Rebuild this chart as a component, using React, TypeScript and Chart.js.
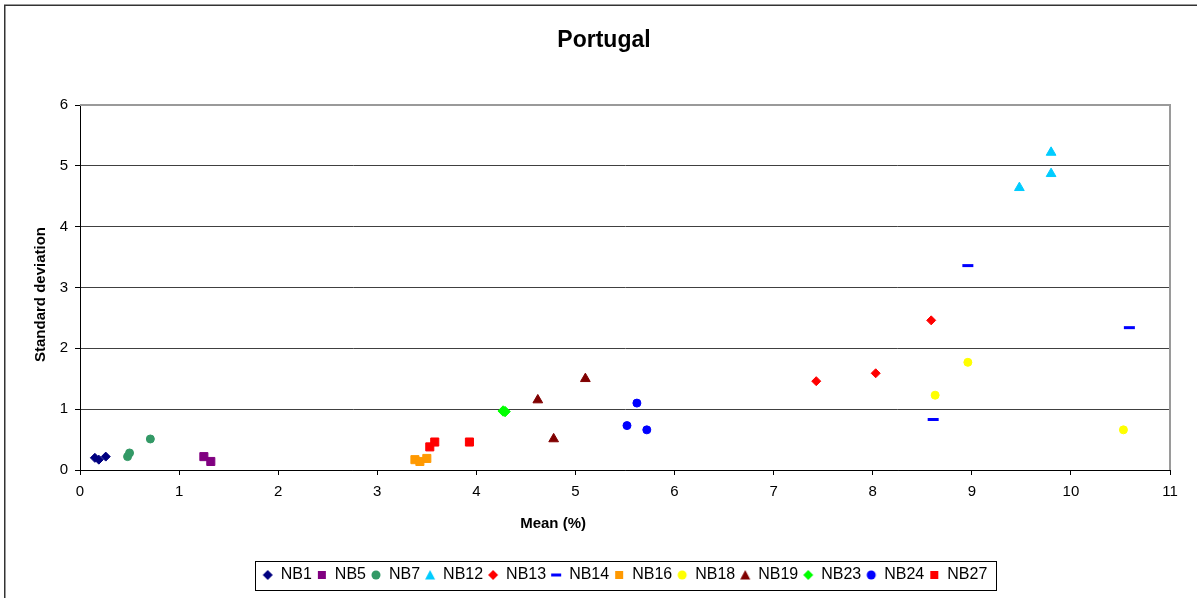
import React, { useEffect, useRef } from "react";
import { Chart, registerables } from "chart.js";

Chart.register(...registerables);

// ---------- data ----------
const CHART_TITLE = "Portugal";
const X_TITLE = "Mean (%)";
const Y_TITLE = "Standard deviation";

const X_TICKS = [0, 1, 2, 3, 4, 5, 6, 7, 8, 9, 10, 11];
const Y_TICKS = [0, 1, 2, 3, 4, 5, 6];

const SERIES_NAMES = ["NB1", "NB5", "NB7", "NB12", "NB13", "NB14", "NB16", "NB18", "NB19", "NB23", "NB24", "NB27"];

const NB1_X = [0.15, 0.19, 0.26];
const NB1_Y = [0.2, 0.17, 0.22];
const NB5_X = [1.25, 1.32];
const NB5_Y = [0.22, 0.14];
const NB7_X = [0.48, 0.5, 0.71];
const NB7_Y = [0.22, 0.28, 0.51];
const NB12_X = [9.8, 9.8, 9.48];
const NB12_Y = [5.22, 4.87, 4.64];
const NB13_X = [7.43, 8.03, 8.59];
const NB13_Y = [1.46, 1.59, 2.46];
const NB14_X = [8.96, 8.61, 10.59];
const NB14_Y = [3.36, 0.83, 2.34];
const NB16_X = [3.38, 3.43, 3.5];
const NB16_Y = [0.17, 0.14, 0.19];
const NB18_X = [8.96, 8.63, 10.53];
const NB18_Y = [1.77, 1.23, 0.66];
const NB19_X = [4.62, 5.1, 4.78];
const NB19_Y = [1.15, 1.5, 0.51];
const NB23_X = [4.27, 4.29];
const NB23_Y = [0.97, 0.96];
const NB24_X = [5.62, 5.52, 5.72];
const NB24_Y = [1.1, 0.73, 0.66];
const NB27_X = [3.53, 3.58, 3.93];
const NB27_Y = [0.38, 0.46, 0.46];

const SERIES_X = [NB1_X, NB5_X, NB7_X, NB12_X, NB13_X, NB14_X, NB16_X, NB18_X, NB19_X, NB23_X, NB24_X, NB27_X];
const SERIES_Y = [NB1_Y, NB5_Y, NB7_Y, NB12_Y, NB13_Y, NB14_Y, NB16_Y, NB18_Y, NB19_Y, NB23_Y, NB24_Y, NB27_Y];

// ---------- styles ----------
const SERIES_COLORS = ["#000080", "#800080", "#339966", "#00CCFF", "#FF0000", "#0000FF", "#FF9900", "#FFFF00", "#800000", "#00FF00", "#0000FF", "#FF0000"];
const SERIES_SHAPES = ["rectRot", "rect", "circle", "triangle", "rectRot", "line", "rect", "circle", "triangle", "rectRot", "circle", "rect"];
const SERIES_RADII = [4.5, 5.7, 4, 5.6, 4.5, 5.5, 5.7, 4, 5.6, 5.2, 4, 5.7];
const SERIES_BORDER = [1, 1, 1, 1, 1, 3, 1, 1, 1, 1, 1, 1];

const FONT = '"Liberation Sans", Arial, sans-serif';

function legendMarker(shape: string, color: string): HTMLCanvasElement {
  const c = document.createElement("canvas");
  c.width = 12;
  c.height = 12;
  const ctx = c.getContext("2d")!;
  ctx.fillStyle = color;
  const cx = 6, cy = 6;
  ctx.beginPath();
  if (shape === "rectRot") {
    ctx.moveTo(cx, cy - 5);
    ctx.lineTo(cx + 5, cy);
    ctx.lineTo(cx, cy + 5);
    ctx.lineTo(cx - 5, cy);
    ctx.closePath();
    ctx.fill();
  } else if (shape === "rect") {
    ctx.rect(cx - 4, cy - 4, 8, 8);
    ctx.fill();
  } else if (shape === "circle") {
    ctx.arc(cx, cy, 4.5, 0, Math.PI * 2);
    ctx.fill();
  } else if (shape === "triangle") {
    ctx.moveTo(cx, cy - 5);
    ctx.lineTo(cx + 5, cy + 4.5);
    ctx.lineTo(cx - 5, cy + 4.5);
    ctx.closePath();
    ctx.fill();
  } else if (shape === "line") {
    ctx.rect(cx - 5, cy - 1.5, 10, 3);
    ctx.fill();
  }
  return c;
}

const decorPlugin = {
  id: "decor",
  beforeDraw(chart: any) {
    const ctx = chart.ctx;
    ctx.save();
    ctx.fillStyle = "#ffffff";
    ctx.fillRect(0, 0, chart.width, chart.height);
    ctx.strokeStyle = "#333333";
    ctx.lineWidth = 1.5;
    ctx.strokeRect(4.75, 5.25, chart.width + 20, chart.height + 20);
    ctx.restore();
  },
  beforeDatasetsDraw(chart: any) {
    const ctx = chart.ctx;
    const a = chart.chartArea;
    ctx.save();
    ctx.strokeStyle = "#9a9a9a";
    ctx.lineWidth = 2;
    ctx.beginPath();
    ctx.moveTo(a.left, a.top);
    ctx.lineTo(a.right, a.top);
    ctx.lineTo(a.right, a.bottom);
    ctx.stroke();
    ctx.restore();
  },
  afterDraw(chart: any) {
    const ctx = chart.ctx;
    const a = chart.chartArea;
    ctx.save();
    ctx.fillStyle = "#000";
    ctx.font = `bold 23px ${FONT}`;
    ctx.textAlign = "center";
    ctx.textBaseline = "alphabetic";
    ctx.fillText(CHART_TITLE, 604, 47);
    ctx.font = `bold 15px ${FONT}`;
    ctx.fillText(X_TITLE, a.left + (a.right - a.left) * 0.434, a.bottom + 58);
    ctx.save();
    ctx.translate(44.5, (a.top + a.bottom) / 2 + 7);
    ctx.rotate(-Math.PI / 2);
    ctx.fillText(Y_TITLE, 0, 0);
    ctx.restore();
    const lg = chart.legend;
    if (lg && lg.legendHitBoxes && lg.legendHitBoxes.length) {
      const hb = lg.legendHitBoxes;
      let l = Infinity, r = -Infinity;
      hb.forEach((b: any) => {
        l = Math.min(l, b.left);
        r = Math.max(r, b.left + b.width);
      });
      const cy = hb[0].top + hb[0].height / 2;
      ctx.strokeStyle = "#000";
      ctx.lineWidth = 1;
      ctx.strokeRect(Math.round(l - 8) + 0.5, Math.round(cy - 14) + 0.5, Math.round(r - l + 16), 29);
    }
    ctx.restore();
  },
};

export default function App() {
  const ref = useRef<HTMLCanvasElement | null>(null);

  useEffect(() => {
    if (!ref.current) return;
    const datasets = SERIES_NAMES.map((name, i) => ({
      label: name,
      data: SERIES_X[i].map((x, j) => ({ x, y: SERIES_Y[i][j] })),
      pointStyle: SERIES_SHAPES[i],
      pointRadius: SERIES_RADII[i],
      pointBackgroundColor: SERIES_COLORS[i],
      pointBorderColor: SERIES_COLORS[i],
      pointBorderWidth: SERIES_BORDER[i],
      backgroundColor: SERIES_COLORS[i],
      borderColor: SERIES_COLORS[i],
      showLine: false,
    }));
    const markers = SERIES_NAMES.map((_, i) => legendMarker(SERIES_SHAPES[i], SERIES_COLORS[i]));

    const chart = new Chart(ref.current, {
      type: "scatter",
      data: { datasets },
      plugins: [decorPlugin],
      options: {
        responsive: false,
        animation: false,
        events: [],
        layout: { padding: { top: 105, left: 10, right: 27, bottom: 5 } },
        plugins: {
          title: { display: false },
          tooltip: { enabled: false },
          legend: {
            position: "bottom",
            fullSize: false,
            labels: {
              usePointStyle: true,
              boxWidth: 10,
              boxHeight: 8,
              padding: 5,
              color: "#000",
              font: { family: FONT, size: 16 },
              generateLabels: (ch: any) =>
                ch.data.datasets.map((ds: any, i: number) => ({
                  text: ds.label,
                  fillStyle: SERIES_COLORS[i],
                  strokeStyle: SERIES_COLORS[i],
                  lineWidth: 0,
                  pointStyle: markers[i],
                  hidden: false,
                  datasetIndex: i,
                  fontColor: "#000",
                })),
            },
          },
        },
        scales: {
          x: {
            type: "linear",
            min: X_TICKS[0],
            max: X_TICKS[X_TICKS.length - 1],
            afterBuildTicks: (s: any) => {
              s.ticks = X_TICKS.map((v) => ({ value: v }));
            },
            ticks: { color: "#000", padding: 8, font: { family: FONT, size: 15 } },
            grid: { drawOnChartArea: false, drawTicks: true, tickLength: 5, tickColor: "#000" },
            border: { color: "#000", width: 1 },
            afterFit: (s: any) => {
              s.height = 92;
            },
          },
          y: {
            type: "linear",
            min: Y_TICKS[0],
            max: Y_TICKS[Y_TICKS.length - 1],
            afterBuildTicks: (s: any) => {
              s.ticks = Y_TICKS.map((v) => ({ value: v }));
            },
            ticks: { color: "#000", padding: 7, font: { family: FONT, size: 15 } },
            grid: { color: "#404040", tickColor: "#000", tickLength: 5, lineWidth: 1 },
            border: { color: "#000", width: 1 },
            afterFit: (s: any) => {
              s.width = 70;
            },
          },
        },
      } as any,
    });
    return () => chart.destroy();
  }, []);

  return (
    <div style={{ position: "absolute", left: 0, top: 0, width: 1197, height: 598, overflow: "hidden" }}>
      <canvas ref={ref} width={1197} height={598} style={{ display: "block" }} />
    </div>
  );
}
